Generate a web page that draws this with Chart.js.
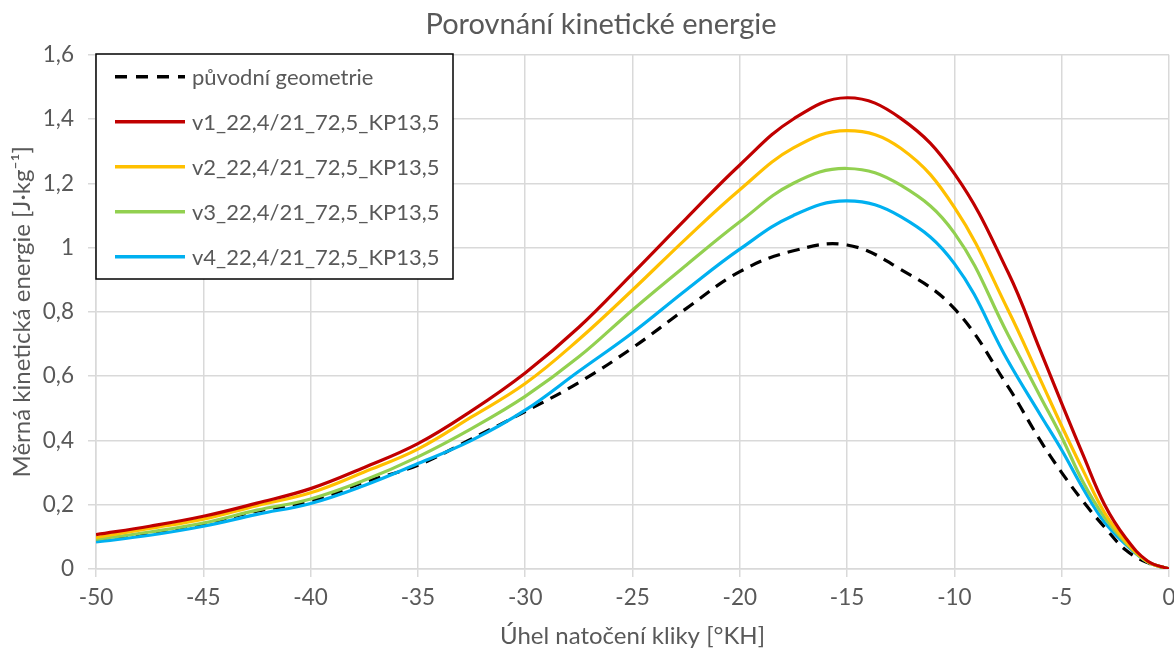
<!DOCTYPE html>
<html>
<head>
<meta charset="utf-8">
<script src="https://cdn.jsdelivr.net/npm/chart.js@4.4.1/dist/chart.umd.min.js"></script>
<style>
  body { margin: 0; background: #fff; }
  canvas { display: block; }
</style>
</head>
<body>
<canvas id="chartEnergie" width="1174" height="653"></canvas>
<script>
// uhel natoceni kliky [°KH]
const uhel = [-50, -47.5, -45, -42.5, -40, -37.5, -35, -32.5, -30, -27.5, -25, -22.5, -20, -17.5, -15, -12.5, -10, -7.5, -6, -5, -4, -3, -2, -1, 0];

// merna kineticka energie [J/kg]
const puvodni = [0.09, 0.112, 0.14, 0.18, 0.21, 0.27, 0.323, 0.405, 0.49, 0.58, 0.688, 0.81, 0.925, 0.99, 1.008, 0.932, 0.81, 0.567, 0.40, 0.30, 0.21, 0.13, 0.058, 0.02, 0];
const v1 = [0.107, 0.133, 0.164, 0.205, 0.25, 0.316, 0.39, 0.492, 0.61, 0.752, 0.919, 1.09, 1.257, 1.40, 1.466, 1.402, 1.23, 0.923, 0.68, 0.515, 0.354, 0.20, 0.095, 0.025, 0];
const v2 = [0.098, 0.126, 0.155, 0.197, 0.237, 0.302, 0.373, 0.473, 0.577, 0.714, 0.868, 1.028, 1.18, 1.31, 1.364, 1.309, 1.125, 0.806, 0.59, 0.445, 0.306, 0.175, 0.085, 0.023, 0];
const v3 = [0.092, 0.115, 0.143, 0.183, 0.218, 0.276, 0.349, 0.437, 0.537, 0.66, 0.806, 0.945, 1.08, 1.20, 1.246, 1.194, 1.045, 0.729, 0.537, 0.41, 0.27, 0.16, 0.08, 0.022, 0];
const v4 = [0.084, 0.105, 0.133, 0.170, 0.204, 0.26, 0.328, 0.40, 0.494, 0.615, 0.735, 0.868, 0.995, 1.10, 1.145, 1.096, 0.95, 0.647, 0.48, 0.37, 0.25, 0.145, 0.075, 0.022, 0];

const nazvy = ["původní geometrie", "v1_22,4/21_72,5_KP13,5", "v2_22,4/21_72,5_KP13,5", "v3_22,4/21_72,5_KP13,5", "v4_22,4/21_72,5_KP13,5"];
const barvy = ["#000000", "#C00000", "#FFC000", "#92D050", "#00B0F0"];
const nadpis = "Porovnání kinetické energie";

const serie = [puvodni, v1, v2, v3, v4];
const sedy = "#595959";
const pismo = "Lato, 'Open Sans', sans-serif";

// body {x, y} z poli
const datasets = serie.map((hodnoty, i) => ({
  label: nazvy[i],
  data: hodnoty.map((y, j) => ({ x: uhel[j], y: y })),
  borderColor: barvy[i],
  borderWidth: 3.2,
  borderDash: i === 0 ? [12, 8] : [],
  pointRadius: 0,
  tension: 0.4,
  fill: false
}));
// cerna prerusovana cara nahore
datasets.push(datasets.shift());

// nadpis a legenda v ramecku
const legendaRamecek = {
  id: "legendaRamecek",
  afterDraw(chart) {
    const ctx = chart.ctx;
    const x0 = 96, y0 = 54, w = 357, h = 225;
    ctx.save();
    ctx.fillStyle = sedy;
    ctx.font = "29px " + pismo;
    ctx.textAlign = "center";
    ctx.textBaseline = "middle";
    ctx.fillText(nadpis, 601, 25);

    ctx.fillStyle = "#fff";
    ctx.fillRect(x0, y0, w, h);
    ctx.strokeStyle = "#000";
    ctx.lineWidth = 1.5;
    ctx.strokeRect(x0, y0, w, h);
    ctx.font = "22px " + pismo;
    ctx.textAlign = "left";
    nazvy.forEach((nazev, i) => {
      const y = 76.7 + i * 45;
      ctx.beginPath();
      ctx.strokeStyle = barvy[i];
      ctx.lineWidth = 3.5;
      ctx.setLineDash(i === 0 ? [12, 9] : []);
      ctx.moveTo(115, y);
      ctx.lineTo(185, y);
      ctx.stroke();
      ctx.setLineDash([]);
      ctx.fillStyle = sedy;
      ctx.fillText(nazev, 192, y + 1);
    });
    ctx.restore();
  }
};

const config = {
  type: "line",
  data: { datasets: datasets },
  options: {
    responsive: false,
    animation: false,
    layout: { padding: { left: 0, right: 5, top: 54.7, bottom: 0 } },
    plugins: {
      legend: { display: false },
      tooltip: { enabled: false },
      title: { display: false }
    },
    scales: {
      x: {
        type: "linear",
        min: -50,
        max: 0,
        grid: { color: "#d9d9d9", lineWidth: 1.5, tickLength: 8, tickColor: "#d9d9d9" },
        border: { color: "#d9d9d9", width: 1.5 },
        ticks: {
          stepSize: 5,
          color: sedy,
          padding: 7,
          maxRotation: 0,
          font: { family: pismo, size: 22.5 }
        },
        title: {
          display: true,
          text: "Úhel natočení kliky [°KH]",
          color: sedy,
          font: { family: pismo, size: 24 },
          padding: { top: 0, bottom: 2 }
        },
        afterFit(scale) {
          scale.height = 84;
          scale.paddingLeft = 0;
          scale.paddingRight = 0;
        }
      },
      y: {
        min: 0,
        max: 1.6,
        grid: { color: "#d9d9d9", lineWidth: 1.5, tickLength: 8, tickColor: "#d9d9d9" },
        border: { color: "#d9d9d9", width: 1.5 },
        ticks: {
          stepSize: 0.2,
          color: sedy,
          padding: 14,
          font: { family: pismo, size: 22.5 },
          callback: (v) => String(Number(v.toFixed(1))).replace(".", ",")
        },
        title: {
          display: true,
          text: "Měrná kinetická energie [J·kg⁻¹]",
          color: sedy,
          font: { family: pismo, size: 24 },
          padding: { top: 8, bottom: 0 }
        },
        afterFit(scale) {
          scale.width = 96;
          scale.paddingTop = 0;
          scale.paddingBottom = 0;
        }
      }
    }
  },
  plugins: [legendaRamecek]
};

const myChart = new Chart(document.getElementById("chartEnergie"), config);
</script>
</body>
</html>
